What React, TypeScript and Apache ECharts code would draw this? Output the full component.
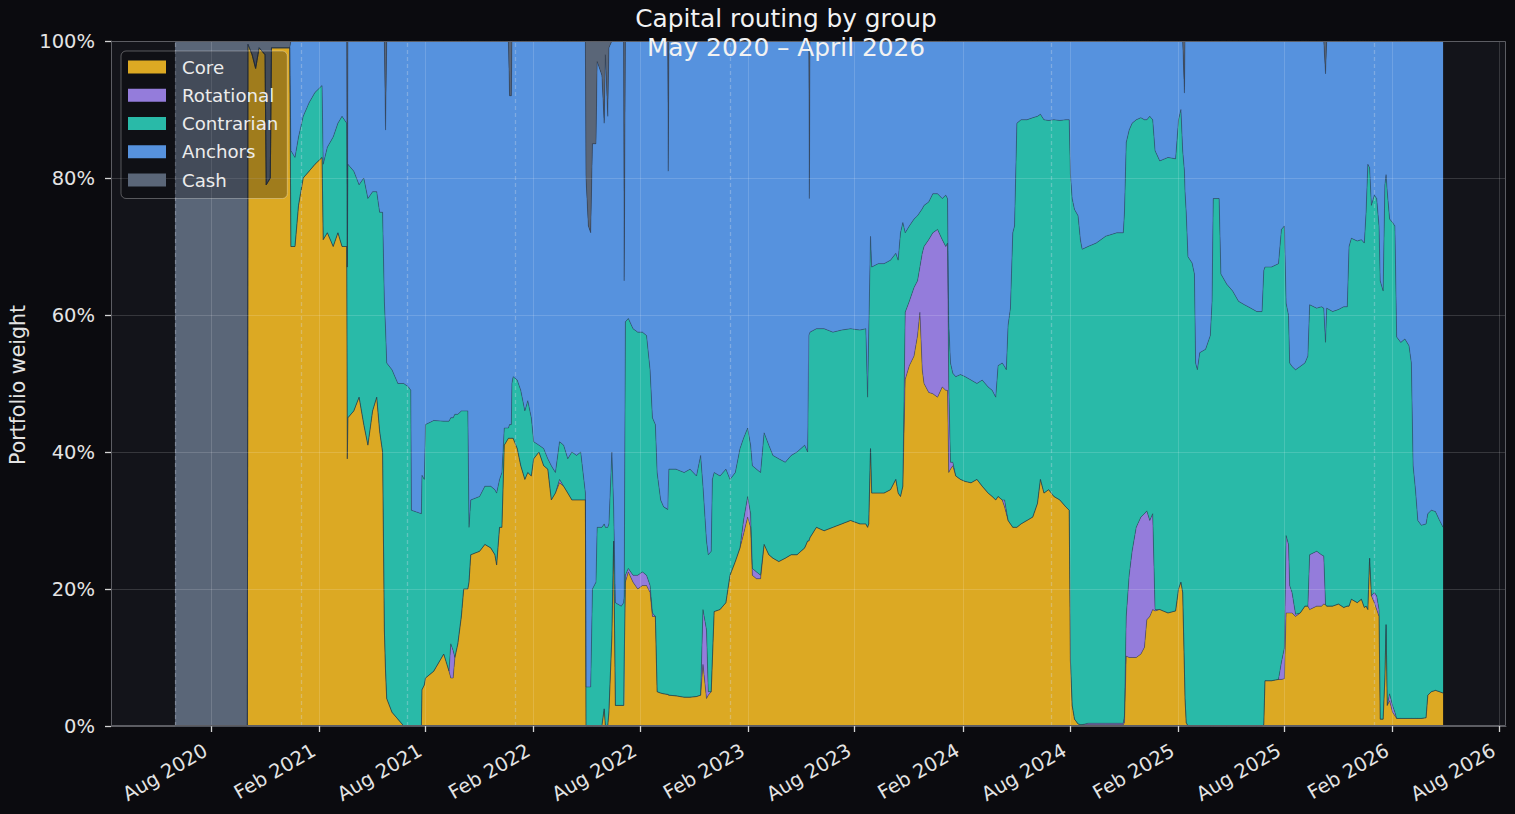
import React, { useEffect, useRef } from "react";
import * as echarts from "echarts";

const dates = [
  "2020-06-01","2020-10-02","2020-10-03","2020-10-10","2020-10-16","2020-10-22","2020-11-01","2020-11-03","2020-11-10","2020-11-12",
  "2020-12-13","2020-12-15","2020-12-22","2020-12-28","2021-01-05","2021-01-15","2021-01-25","2021-02-06","2021-02-08","2021-02-15",
  "2021-02-25","2021-03-05","2021-03-12","2021-03-20","2021-03-21","2021-03-22","2021-04-01","2021-04-10","2021-04-18","2021-04-25",
  "2021-05-03","2021-05-10","2021-05-15","2021-05-20","2021-05-23","2021-05-25","2021-05-27","2021-06-05","2021-06-15","2021-06-25",
  "2021-07-03","2021-07-07","2021-07-08","2021-07-25","2021-07-26","2021-07-30","2021-08-01","2021-08-15","2021-09-01","2021-09-10",
  "2021-09-13","2021-09-17","2021-09-20","2021-09-25","2021-10-01","2021-10-05","2021-10-12","2021-10-14","2021-10-17","2021-11-01",
  "2021-11-10","2021-11-20","2021-11-27","2021-11-30","2021-12-05","2021-12-09","2021-12-13","2021-12-20","2021-12-22","2021-12-25",
  "2021-12-26","2021-12-28","2022-01-04","2022-01-10","2022-01-17","2022-01-22","2022-01-28","2022-02-01","2022-02-10","2022-02-18",
  "2022-02-25","2022-03-03","2022-03-10","2022-03-17","2022-03-24","2022-03-31","2022-04-07","2022-04-15","2022-04-22","2022-04-30",
  "2022-05-01","2022-05-05","2022-05-09","2022-05-12","2022-05-18","2022-05-20","2022-05-28","2022-06-01","2022-06-03","2022-06-07",
  "2022-06-09","2022-06-14","2022-06-17","2022-06-20","2022-06-30","2022-07-04","2022-07-05","2022-07-07","2022-07-12","2022-07-20",
  "2022-07-28","2022-08-05","2022-08-12","2022-08-18","2022-08-22","2022-08-27","2022-08-30","2022-09-05","2022-09-10","2022-09-17",
  "2022-09-18","2022-09-19","2022-10-01","2022-10-15","2022-10-25","2022-11-05","2022-11-12","2022-11-16","2022-11-22","2022-11-25",
  "2022-11-30","2022-12-02","2022-12-05","2022-12-15","2022-12-25","2023-01-01","2023-01-10","2023-01-18","2023-01-24","2023-01-31",
  "2023-02-05","2023-02-08","2023-02-15","2023-02-22","2023-02-28","2023-03-08","2023-03-15","2023-03-25","2023-04-05","2023-04-15",
  "2023-04-25","2023-05-08","2023-05-13","2023-05-15","2023-05-16","2023-05-17","2023-05-28","2023-06-10","2023-06-25","2023-07-10",
  "2023-07-25","2023-08-10","2023-08-20","2023-08-23","2023-08-25","2023-08-28","2023-08-30","2023-09-10","2023-09-20","2023-10-01",
  "2023-10-10","2023-10-14","2023-10-18","2023-10-22","2023-10-26","2023-11-02","2023-11-10","2023-11-16","2023-11-20","2023-11-24",
  "2023-11-27","2023-12-05","2023-12-12","2023-12-20","2023-12-28","2024-01-03","2024-01-06","2024-01-08","2024-01-11","2024-01-15",
  "2024-01-20","2024-01-28","2024-02-05","2024-02-15","2024-02-25","2024-03-05","2024-03-15","2024-03-22","2024-03-28","2024-04-01",
  "2024-04-08","2024-04-12","2024-04-15","2024-04-18","2024-04-22","2024-04-26","2024-04-29","2024-05-03","2024-05-10","2024-05-20",
  "2024-05-30","2024-06-07","2024-06-12","2024-06-18","2024-06-26","2024-07-05","2024-07-15","2024-07-25","2024-07-31","2024-08-02",
  "2024-08-05","2024-08-09","2024-08-15","2024-08-19","2024-08-22","2024-09-01","2024-09-15","2024-10-01","2024-10-20","2024-10-31",
  "2024-11-02","2024-11-05","2024-11-10","2024-11-15","2024-11-22","2024-11-30","2024-12-06","2024-12-10","2024-12-15","2024-12-20",
  "2024-12-24","2025-01-01","2025-01-15","2025-01-28","2025-02-02","2025-02-06","2025-02-09","2025-02-12","2025-02-13","2025-02-15",
  "2025-02-18","2025-02-25","2025-03-01","2025-03-03","2025-03-06","2025-03-10","2025-03-20","2025-03-28","2025-03-31","2025-04-02",
  "2025-04-12","2025-04-15","2025-04-25","2025-05-05","2025-05-15","2025-05-25","2025-06-05","2025-06-15","2025-06-24","2025-06-27",
  "2025-06-29","2025-07-10","2025-07-22","2025-07-27","2025-08-01","2025-08-04","2025-08-08","2025-08-10","2025-08-14","2025-08-20",
  "2025-08-28","2025-09-05","2025-09-10","2025-09-13","2025-09-25","2025-10-03","2025-10-07","2025-10-10","2025-10-12","2025-10-22",
  "2025-11-01","2025-11-10","2025-11-16","2025-11-19","2025-11-23","2025-12-03","2025-12-10","2025-12-15","2025-12-18","2025-12-21",
  "2025-12-24","2025-12-27","2026-01-01","2026-01-05","2026-01-09","2026-01-11","2026-01-16","2026-01-19","2026-01-21","2026-01-23",
  "2026-01-27","2026-02-01","2026-02-05","2026-02-08","2026-02-15","2026-02-22","2026-03-01","2026-03-05","2026-03-08","2026-03-12",
  "2026-03-16","2026-03-22","2026-03-30","2026-04-02","2026-04-08","2026-04-15","2026-04-22","2026-04-28",
];

const core = [
  0,0,99.5,98,96,99,98,79,80,99,
  99,70,70,76,80,81,82,83,71,72,
  70,72,70,70,39,45,46,48,44,41,
  46,48,43,40,14,8,4,2,1,0,
  0,0,0,0,5.3,6,7,8,10.5,8,
  7,7,10,12,16,20,20,21,25,25.5,
  26.5,26,25,23.5,29,29,41,42,42,42,
  42,42,40.5,38,36,37,36.5,39,40,38,
  37.5,33,34,35.5,35,34,33,33,33,33,
  0,0,0,0,0,0,0,2.5,0,0,
  2,13,27,3,3,3,3,21,22.5,21,
  20,20.5,20.5,19.5,16,16,5,4.8,4.7,4.6,
  4.6,4.5,4.4,4.2,4.2,4.3,4.5,9,4,4.5,
  5,9.6,16.7,17,18,22,24,26,28,30.5,
  29,22,21.5,21.5,26.5,25,24.5,24,24.5,25,
  25,26,27,27,27,27.5,29,28.5,29,29.5,
  30,29.5,29.5,29,29.5,40.5,34,34,34,34.5,
  36,34,33.5,35,50.6,52.6,54,57,60.4,52,
  50,48.7,48.5,48,49.5,49,49,37,37.5,38,
  36.5,36,35.7,35.5,36,35,34,33.5,33,33.5,
  33,32,31,30,29.5,29,29,29,29.5,30,
  30.5,32.5,36,34,34.5,33.5,33,32,31.5,9.6,
  3,1,0.3,0.2,0.2,0.2,0.2,0.2,0.2,0.2,
  0.5,10.2,10,10,10,10.5,11.5,15.5,16,17,
  16.8,17,16.5,16.8,20,21,19.5,8,4,0.5,
  0,0,0,0,0,0,0,0,0,0,
  0,0,0,0,0,0,0,0,0,0.2,
  6.6,6.6,6.8,6.8,6.9,16.5,16.5,16.5,16.5,16,
  16.5,17.5,17.5,17,17.5,17.5,17.8,17.7,17.5,17.5,
  17.8,17.3,17.5,17.5,18.5,18,18.5,17.3,17.5,17,
  24.5,19,18,17,16,1,1,7,14.8,3,
  3.7,2,1.5,1.1,1.1,1.1,1.1,1.1,1.1,1.1,
  1.1,1.1,1.2,4.5,5,5.2,5,4.8,
];

const rotational = [
  0,0,0,0,0,0,0,0,0,0,
  0,0,0,0,0,0,0,0,0,0,
  0,0,0,0,0,0,0,0,0,0,
  0,0,0,0,0,0,0,0,0,0,
  0,0,0,0,0,0,0,0,0,0,
  5,4,0,0,0,0,0,0,0,0,
  0,0,0,0,0,0,0,0,0,0,
  0,0,0,0,0,0,0,0,0,0,
  0,0,0,0.5,0,0,0,0,0,0,
  0,0,0,0,0,0,0,0,0,0,
  0,0,0,0,0,0,0,1,0.5,1,
  2,2,1.5,1,0.5,0,0,0,0,0,
  0,0,0,0,0,0,0,8,10,0.5,
  0,0,0,0,0,0,0,0,2,3,
  2,1,1,0.5,0,0,0,0,0,0,
  0,0,0,0,0,0,0,0,0,0,
  0,0,0,0,0,0,0,0,0,0,
  0,0,0,0,9.8,9.4,10,8,6.6,17,
  20,22.3,23.5,24.5,21.5,21,21.5,13,1,0.5,
  0,0,0,0,0,0,0,0,0,0,
  0,1,0.5,0,0,0,0,0,0,0,
  0,0,0,0,0,0,0,0,0,0,
  0,0,0,0,0,0.2,0.2,0.2,0.2,0.2,
  1,5.8,12,15.5,19,20,19.5,15.9,14,14,
  0.2,0,0,0,0,0,0,0,0,0,
  0,0,0,0,0,0,0,0,0,0,
  0,0,0,0,0,0,0,0,0,0,
  0,0,0,2.5,4.5,11.3,10,4,3,0.3,
  0,0,0,8,8,7.5,7,0,0,0,
  0,0,0,0,0,0,0,0,0,0,
  0,0,1.5,2,1,0,0,0,0,0,
  1,1,0.5,0,0,0,0,0,0,0,
  0,0,0,0,0,0,0,0,
];

const contrarian = [
  0,0,0,0,0,0,0,0,0,0,
  0,14,13,10,9,10,10.5,10.5,11,12.5,
  16,16,19,18,28,37,35,31,36,36,
  32,30,32,35,48,50,49,50,49,50,
  49.5,49,31.5,31,31.3,30,37,36.6,34,36.5,
  33,34,35.5,33.5,30,26,26,8,8,8,
  8.5,9,9.5,10.5,7,8,2.5,1.5,2,2,
  8,9,10,11,10,10.5,8.5,2.5,1,2.5,
  1.5,5,3,5.5,6,5,7,6.5,7,1,
  5.7,5.7,5.7,20,21,29,29,27,29,29,
  27.5,27,5,15,14.5,15,16,37,36.5,36,
  35.5,35,35,31.5,28.5,28,32,28.2,27.3,27,
  27,33,33.1,32.8,33.3,32.2,35,18,13,20,
  20.5,26.4,20.3,19.5,19.5,14,13,14.5,12,10,
  10,15,15,15,16.3,16,15,15,14,14.5,
  15,15,13,30,30,30,29,29.5,28.5,28.3,
  28,28.3,28.5,19,28,31,33,33.5,33.5,33.5,
  33,34,38.5,38.5,11.6,11,10,9.5,8,6.5,
  6,5.5,5.7,5.2,6,7.5,6.5,9,14.5,13,
  14.5,15.3,15.3,15,14,15.5,15.5,15.5,15,19.1,
  20,19.5,20.5,28.5,31.5,43,44,59,59,58.5,
  58.3,56.5,53.3,54.5,53.9,55,55.4,56.5,57,71,
  74,74.4,74.2,70.8,69.4,69.6,70.1,71.1,71.6,71.6,
  73.5,69.2,65,62.5,59.5,58.3,57.5,57.1,59,57.5,
  67,65.5,66.5,66,68.5,69,64.5,73,74,74.5,
  68.5,67.6,66,53,52,54.5,55,57,62,77,
  77,66,64.5,63.5,62,61.5,61,60.5,60.5,66.3,
  60.4,60.4,60.7,63.2,61.6,33.9,33.5,32.5,33,35.7,
  36,35.5,36.5,36.5,35.5,36.2,36.2,38.3,43.5,43,
  43,43.9,43.7,52.5,52.7,52.8,52.5,53.2,57.5,65,
  57,57,58,58,56,64,62.5,72,65.7,75,
  69.3,70.5,71,55.7,54.9,55.4,54.4,51.9,36.9,33.4,
  28.9,28.2,28.3,26.5,26.5,26.1,25,24.2,
];

const anchors = [
  0,0,0,0,0,0,0,0,0,0,
  0,16,17,14,11,9,7.5,6.5,18,15.5,
  14,12,11,12,0,18,19,21,20,23,
  22,22,25,25,38,29,47,48,50,50,
  50.5,51,68.5,69,63.4,64,56,55.4,55.5,55.5,
  55,55,54.5,54.5,54,54,54,71,67,66.5,
  65,65,65.5,66,64,63,56.5,56.5,48,48,
  50,49,49.5,51,54,52.5,55,58.5,59,59.5,
  61,62,63,58.5,59,61,60,60.5,60,66,
  74.3,67.3,66.3,65,64,68,66,58.5,69,60,
  69.5,60,68,82,82.5,82,46,41,40.5,42,
  42.5,42.5,43,48,55,56,63,67,68,68.4,
  49.4,62.5,62.5,63,62.5,63.5,60.5,65,73,75,
  74.5,64,63,63.5,62.5,64,63,59.5,58,56.5,
  59,62,62.5,63,57.2,59,60.5,61,61.5,60.5,
  60,59,60,43,20,42.5,42,42,42.5,42.2,
  42,42.2,42,52,42.5,28.5,33,32.5,32.5,32,
  31,32,28,26.5,28,27,26,25.5,25,24.5,
  24,23.5,22.3,22.3,23,22.5,23,41,47,48.5,
  49,48.7,49,49.5,50,49.5,50.5,51,52,47.4,
  47,47.5,48,41.5,39,28,27,12,11.5,11.5,
  11.2,11,10.7,11.5,11.6,11.5,11.6,11.5,11.5,19.4,
  23,24.6,25.5,29,30.4,30,29.5,28.5,28,28,
  25,14.8,13,12,11.5,11.2,11.5,11.5,11,11.5,
  16,17.5,17,17.2,11.5,10,16,11.4,22,25,
  31.5,32.4,34,47,48,45.5,45,43,38,23,
  23,34,35.5,36.5,38,38.5,39,39.5,39.5,33.5,
  33,33,32.5,27.5,27,38.3,40,47,47.5,48,
  47.5,47,46,38.5,39,38.8,39,39.2,39,39.5,
  39.2,38.8,38.8,30,28.8,29.2,29,29.5,25,18,
  18.5,24,22.5,23,27,35,36.5,21,19.5,22,
  26,26.5,27,43.2,44,43.5,44.5,47,62,65.5,
  70,70.7,70.5,69,68.5,68.7,70,71,
];

const cash = [
  100,100,0.5,2,4,1,2,21,20,1,
  1,0,0,0,0,0,0,0,0,0,
  0,0,0,0,33,0,0,0,0,0,
  0,0,0,0,0,13,0,0,0,0,
  0,0,0,0,0,0,0,0,0,0,
  0,0,0,0,0,0,0,0,0,0,
  0,0,0,0,0,0,0,0,8,8,
  0,0,0,0,0,0,0,0,0,0,
  0,0,0,0,0,0,0,0,0,0,
  20,27,28,15,15,3,5,12,2,11,
  1,0,0,0,0,0,35,0,0,0,
  0,0,0,0,0,0,0,0,0,0,
  19,0,0,0,0,0,0,0,0,0,
  0,0,0,0,0,0,0,0,0,0,
  0,0,0,0,0,0,0,0,0,0,
  0,0,0,0,23,0,0,0,0,0,
  0,0,0,0,0,0,0,0,0,0,
  0,0,0,0,0,0,0,0,0,0,
  0,0,0,0,0,0,0,0,0,0,
  0,0,0,0,0,0,0,0,0,0,
  0,0,0,0,0,0,0,0,0,0,
  0,0,0,0,0,0,0,0,0,0,
  0,0,0,0,0,0,0,0,0,0,
  0,0,0,0,0,0,0,0,0,0,
  0,0,0,0,0,0,0,7.6,0,0,
  0,0,0,0,0,0,0,0,0,0,
  0,0,0,0,0,0,0,0,0,0,
  0,0,0,0,0,0,0,0,0,0,
  0,0,0,0,0,0,0,4.8,0,0,
  0,0,0,0,0,0,0,0,0,0,
  0,0,0,0,0,0,0,0,0,0,
  0,0,0,0,0,0,0,0,0,0,
  0,0,0,0,0,0,0,0,
];

const groupNames = ["Core", "Rotational", "Contrarian", "Anchors", "Cash"];
const groupColors = ["#DCA923", "#947CDB", "#29BAA8", "#5692DE", "#5A6678"];

const xTickDates = [
  "2020-08-01","2021-02-01","2021-08-01","2022-02-01","2022-08-01","2023-02-01","2023-08-01",
  "2024-02-01","2024-08-01","2025-02-01","2025-08-01","2026-02-01","2026-08-01",
];
const yTickValues = [0, 20, 40, 60, 80, 100];
const eventDates = ["2020-06-01","2021-01-01","2021-07-01","2022-01-01","2023-01-01","2024-07-01","2026-01-01"];
const xRange = ["2020-02-13", "2026-08-13"];

const MONTHS = ["Jan","Feb","Mar","Apr","May","Jun","Jul","Aug","Sep","Oct","Nov","Dec"];
const ts = (s: string) => {
  const [y, m, d] = s.split("-").map(Number);
  return new Date(y, m - 1, d).getTime();
};

const FONT = "DejaVu Sans";

export default function App() {
  const ref = useRef<HTMLDivElement>(null);
  useEffect(() => {
    document.body.style.margin = "0";
    const chart = echarts.init(ref.current!, null, { renderer: "svg" });
    const valuesByGroup = [core, rotational, contrarian, anchors, cash];

    const gridLines: any[] = [];
    yTickValues.filter((v) => v > 0 && v < 100).forEach((v) => {
      gridLines.push({ yAxis: v, lineStyle: { color: "rgba(255,255,255,0.15)", width: 1, type: "solid" } });
    });
    xTickDates.forEach((d) => {
      gridLines.push({ xAxis: ts(d), lineStyle: { color: "rgba(255,255,255,0.15)", width: 1, type: "solid" } });
    });
    eventDates.forEach((d) => {
      gridLines.push({ xAxis: ts(d), lineStyle: { color: "rgba(215,220,235,0.32)", width: 1.3, type: [4, 3] } });
    });

    const series: any[] = groupNames.map((name, gi) => {
      const s: any = {
        name,
        type: "line",
        stack: "weights",
        // value first so the stack is applied to the weight dimension
        data: dates.map((d, i) => [valuesByGroup[gi][i], ts(d)]),
        encode: { x: 1, y: 0 },
        showSymbol: false,
        symbol: "none",
        silent: true,
        lineStyle: { width: 0.7, color: "rgba(40,52,72,0.55)" },
        areaStyle: { color: groupColors[gi], opacity: 1 },
        itemStyle: { color: groupColors[gi] },
        emphasis: { disabled: true },
        z: 2,
      };
      if (gi === groupNames.length - 1) {
        s.markLine = {
          silent: true,
          symbol: ["none", "none"],
          label: { show: false },
          emphasis: { disabled: true },
          z: 6,
          data: gridLines,
        };
      }
      return s;
    });

    const tickValues = xTickDates.map(ts);

    chart.setOption({
      animation: false,
      backgroundColor: "#0b0b0f",
      textStyle: { fontFamily: FONT },
      grid: {
        left: 111,
        right: 9,
        top: 41,
        bottom: 88,
        show: true,
        backgroundColor: "#13141a",
        borderWidth: 0,
      },
      legend: {
        orient: "vertical",
        left: 121,
        top: 51,
        padding: [7, 9, 9.5, 7],
        itemWidth: 38,
        itemHeight: 13,
        itemGap: 10.25,
        icon: "rect",
        selectedMode: false,
        backgroundColor: "rgba(8,8,12,0.28)",
        borderColor: "rgba(255,255,255,0.3)",
        borderWidth: 1,
        borderRadius: 5,
        z: 20,
        itemStyle: { borderWidth: 0 },
        textStyle: { color: "#ececec", fontSize: 18.2, fontFamily: FONT, padding: [0, 0, 0, 11] },
        data: groupNames.map((n, i) => ({ name: n, itemStyle: { color: groupColors[i], borderWidth: 0 } })),
      },
      xAxis: {
        type: "value",
        min: ts(xRange[0]),
        max: ts(xRange[1]),
        scale: true,
        splitLine: { show: false },
        axisLine: { show: true, lineStyle: { color: "#5c5d63", width: 1 } },
        axisTick: {
          show: true,
          length: 6,
          lineStyle: { color: "#d4d4d4", width: 1.3 },
          customValues: tickValues,
        },
        axisLabel: {
          customValues: tickValues,
          rotate: 30,
          margin: 20,
          color: "#e4e4e4",
          fontSize: 19.5,
          fontFamily: FONT,
          padding: [0, 6, 0, 0],
          formatter: (v: number) => {
            const d = new Date(v);
            return `${MONTHS[d.getMonth()]} ${d.getFullYear()}`;
          },
        },
      },
      yAxis: {
        type: "value",
        min: 0,
        max: 100,
        interval: 20,
        splitLine: { show: false },
        axisLine: { show: true, lineStyle: { color: "#5c5d63", width: 1 } },
        axisTick: { show: true, length: 6, lineStyle: { color: "#d4d4d4", width: 1.3 } },
        axisLabel: {
          margin: 16,
          color: "#e4e4e4",
          fontSize: 19.5,
          fontFamily: FONT,
          formatter: (v: number) => `${v}%`,
        },
      },
      graphic: [
        {
          type: "rect",
          shape: { x: 111.5, y: 41.5, width: 1394, height: 684 },
          style: { fill: "none", stroke: "#5c5d63", lineWidth: 1 },
          silent: true,
          z: 50,
        },
        {
          type: "text",
          x: 786,
          y: 18.6,
          silent: true,
          z: 60,
          style: {
            text: "Capital routing by group",
            fill: "#f2f2f2",
            fontSize: 24.8,
            fontFamily: FONT,
            align: "center",
            verticalAlign: "middle",
          },
        },
        {
          type: "text",
          x: 786,
          y: 47.4,
          silent: true,
          z: 60,
          style: {
            text: "May 2020 – April 2026",
            fill: "#f2f2f2",
            fontSize: 24.8,
            fontFamily: FONT,
            align: "center",
            verticalAlign: "middle",
          },
        },
        {
          type: "text",
          x: 18,
          y: 385,
          rotation: Math.PI / 2,
          silent: true,
          z: 60,
          style: {
            text: "Portfolio weight",
            fill: "#e4e4e4",
            fontSize: 20.5,
            fontFamily: FONT,
            align: "center",
            verticalAlign: "middle",
          },
        },
      ],
      series,
    });
    return () => chart.dispose();
  }, []);
  return <div ref={ref} style={{ position: "fixed", left: 0, top: 0, width: 1515, height: 814 }} />;
}
